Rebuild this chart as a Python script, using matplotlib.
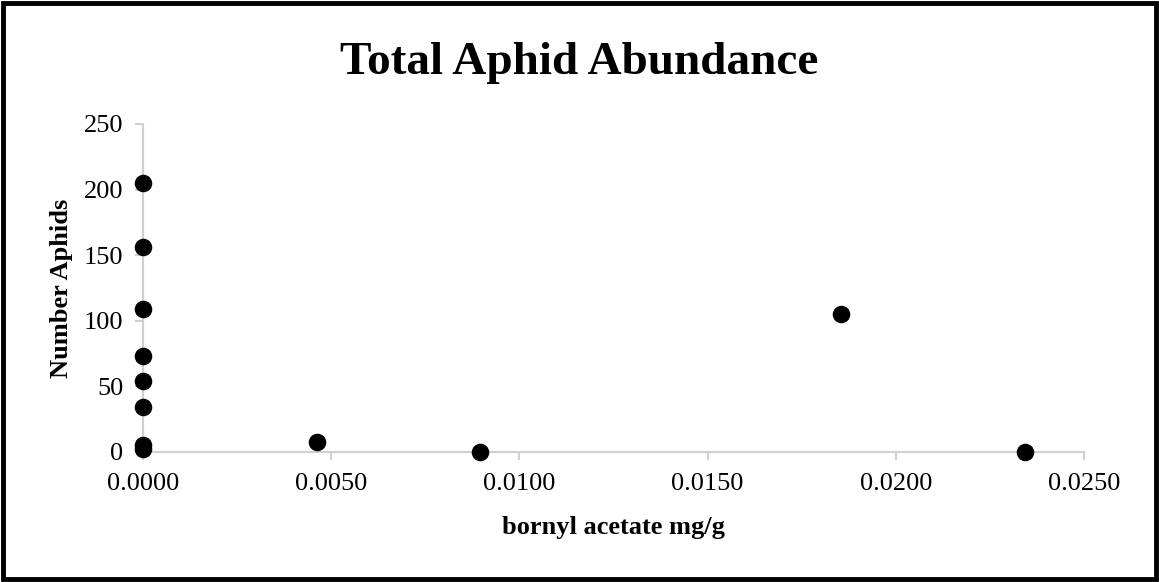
import matplotlib
matplotlib.use('Agg')
import matplotlib.pyplot as plt
from matplotlib.patches import Rectangle
from matplotlib.ticker import FormatStrFormatter

# bornyl acetate (mg/g) vs aphid count
bornyl = [0.0, 0.0, 0.0, 0.0, 0.0, 0.0, 0.0, 0.0, 0.00463, 0.00895, 0.01855, 0.02342]
aphids = [205, 156, 109, 73, 54, 34, 5, 2, 8, 0, 105, 0]

xticks = [0.0, 0.005, 0.010, 0.015, 0.020, 0.025]
yticks = [0, 50, 100, 150, 200, 250]

plt.rcParams['font.family'] = ['Liberation Serif', 'DejaVu Serif']

fig = plt.figure(figsize=(11.59, 5.82), dpi=100)
ax = fig.add_axes([143/1159, 130/582, (1084-143)/1159, (452-124)/582])

ax.scatter(bornyl, aphids, s=135, color='black', zorder=3, clip_on=False)

ax.set_xlim(0, 0.025)
ax.set_ylim(0, 250)
ax.set_xticks(xticks)
ax.set_yticks(yticks)
ax.xaxis.set_major_formatter(FormatStrFormatter('%.4f'))

for s in ['top', 'right']:
    ax.spines[s].set_visible(False)
for s in ['left', 'bottom']:
    ax.spines[s].set_color('#d0d0d0')
    ax.spines[s].set_linewidth(1.5)
ax.tick_params(axis='both', colors='#d0d0d0', length=6, width=1.5, labelcolor='black', labelsize=19)
ax.tick_params(axis='y', pad=8)
ax.tick_params(axis='x', pad=9)

ax.set_xlabel("bornyl acetate mg/g", fontsize=19, fontweight='bold', labelpad=15)
ax.set_ylabel("Number Aphids", fontsize=19, fontweight='bold', labelpad=8)
fig.text(0.5, 1 - 63/582, "Total Aphid Abundance", ha='center', va='center', fontsize=34, fontweight='bold')

# outer frame
fig.patches.append(Rectangle((3/1159, 3/582), 1 - 6/1159, 1 - 6/582, transform=fig.transFigure,
                             fill=False, edgecolor='black', linewidth=3.5))

plt.savefig('out.png', dpi=100)
